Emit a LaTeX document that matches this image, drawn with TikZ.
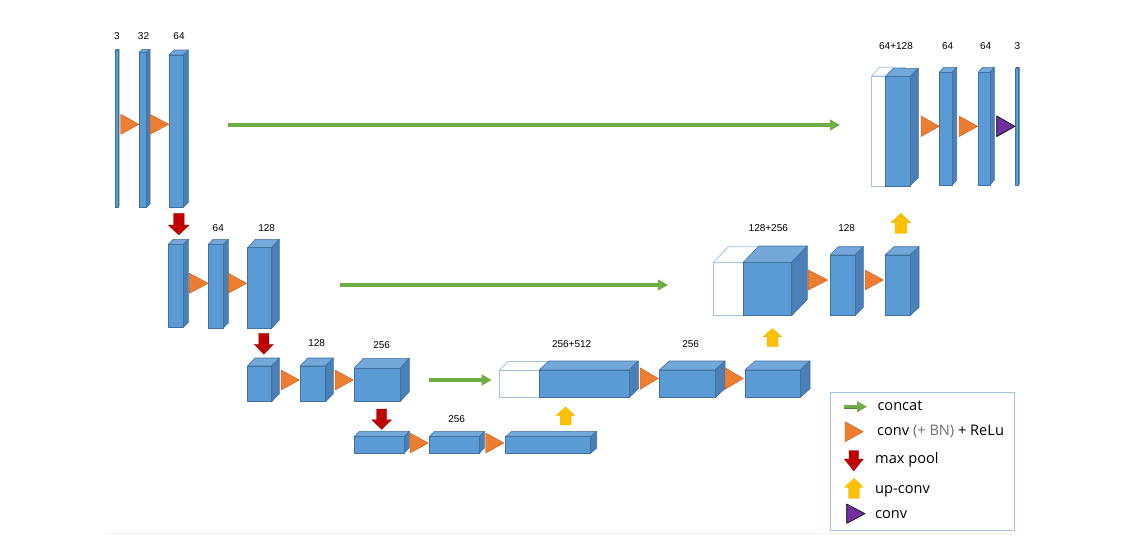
\documentclass[tikz,border=0pt]{standalone}
\usepackage{fontspec}
\setmainfont{Liberation Sans}
\newfontfamily\legfont{Open Sans}
\usetikzlibrary{arrows.meta}
\definecolor{bfront}{HTML}{5B9BD5}
\definecolor{btop}{HTML}{74A8DB}
\definecolor{bside}{HTML}{4A7FB8}
\definecolor{bedge}{HTML}{41719C}
\definecolor{wedge}{HTML}{9DC3E6}
\definecolor{convor}{HTML}{ED7D31}
\definecolor{convedge}{HTML}{C55A11}
\definecolor{poolred}{HTML}{C00000}
\definecolor{upyel}{HTML}{FFC000}
\definecolor{fpurple}{HTML}{7030A0}
\definecolor{cgreen}{HTML}{70AD47}
\definecolor{cgreendk}{HTML}{507E32}
\definecolor{legedge}{HTML}{9DC3E6}
\definecolor{bngray}{HTML}{707070}

\tikzset{
  blockfront/.style={draw=bedge, fill=bfront, line width=0.6pt, inner sep=0pt, outer sep=0pt},
  whitefront/.style={draw=wedge, fill=white, line width=0.8pt, inner sep=0pt, outer sep=0pt},
  topface/.style={draw=bedge, fill=btop, line width=0.6pt, line join=round},
  sideface/.style={draw=bedge, fill=bside, line width=0.6pt, line join=round},
  wface/.style={draw=wedge, fill=white, line width=0.8pt, line join=round},
  convtri/.style={fill=convor, draw=convedge, line width=0.4pt, line join=round},
  finaltri/.style={fill=fpurple, draw=black, line width=0.6pt, line join=round},
  poolarrow/.style={fill=poolred, draw=poolred!85!black, line width=0.3pt},
  uparrow/.style={fill=upyel, draw=upyel!92!black, line width=0.3pt},
  concat/.style={draw=cgreen, line width=3.2pt, -{Triangle[length=10pt,width=10.5pt]},
     preaction={draw=cgreendk, line width=4.2pt, arrows=-, shorten >=9pt}},
  lbl/.style={font=\fontsize{10}{12}\selectfont, inner sep=0pt, anchor=base},
  legtxt/.style={font=\legfont\fontsize{14.6}{17}\selectfont, inner sep=0pt, anchor=base west},
}

% #1 name, #2 x1, #3 ytop, #4 x2, #5 ybot, #6 dx, #7 dy
\newcommand\blk[7]{%
  \path[topface] (#2,#3) -- (#2+#6,#3-#7) -- (#4+#6,#3-#7) -- (#4,#3) -- cycle;
  \path[sideface] (#4,#3) -- (#4+#6,#3-#7) -- (#4+#6,#5-#7) -- (#4,#5) -- cycle;
  \pgfmathsetlengthmacro\blkw{(#4-#2)*1pt}%
  \pgfmathsetlengthmacro\blkh{(#5-#3)*1pt}%
  \node[blockfront, minimum width=\blkw, minimum height=\blkh, anchor=north west] (#1) at (#2,#3) {};
}
\newcommand\wblk[7]{%
  \path[wface] (#2,#3) -- (#2+#6,#3-#7) -- (#4+#6,#3-#7) -- (#4,#3) -- cycle;
  \path[wface] (#4,#3) -- (#4+#6,#3-#7) -- (#4+#6,#5-#7) -- (#4,#5) -- cycle;
  \pgfmathsetlengthmacro\blkw{(#4-#2)*1pt}%
  \pgfmathsetlengthmacro\blkh{(#5-#3)*1pt}%
  \node[whitefront, minimum width=\blkw, minimum height=\blkh, anchor=north west] (#1) at (#2,#3) {};
}
% #1 style, #2 x1, #3 ymid, #4 length, #5 half height
\newcommand\tri[5]{%
  \path[#1] (#2,#3-#5) -- (#2+#4,#3) -- (#2,#3+#5) -- cycle;}
% down arrow: #1 cx, #2 ytop, #3 ybot, #4 half width, #5 shaft half width, #6 head length
\newcommand\dnarrow[6]{%
  \path[poolarrow] (#1-#5,#2) -- (#1+#5,#2) -- (#1+#5,#3-#6) -- (#1+#4,#3-#6) -- (#1,#3)
     -- (#1-#4,#3-#6) -- (#1-#5,#3-#6) -- cycle;}
% up arrow: #1 cx, #2 ytop, #3 ybot, #4 half width, #5 shaft half width, #6 head length
\newcommand\uparr[6]{%
  \path[uparrow] (#1-#5,#3) -- (#1+#5,#3) -- (#1+#5,#2+#6) -- (#1+#4,#2+#6) -- (#1,#2)
     -- (#1-#4,#2+#6) -- (#1-#5,#2+#6) -- cycle;}

\begin{document}
\begin{tikzpicture}[x=1pt,y=-1pt]
\useasboundingbox (0,0) rectangle (1124,557);
\fill[white] (0,0) rectangle (1124,557);

% faint base line
\draw[black!5, line width=1pt] (105,533) -- (1020,533);

% ---------- level 1 encoder ----------
\blk{b11}{115}{50.5}{118}{207}{1}{1}
\blk{b12}{139}{52.3}{146.7}{207}{3.3}{3}
\blk{b13}{169}{55}{183.3}{207.3}{5}{5}
\node[lbl] (l11) at (117,39.3) {3};
\node[lbl] (l12) at (143.5,39.3) {32};
\node[lbl] (l13) at (179,39.3) {64};
\tri{convtri}{120.7}{124.3}{18.3}{10}
\tri{convtri}{150}{124.3}{19}{10}

\coordinate (g1s) at (228,125);
\coordinate (g1e) at (840,125);
\draw[concat] (g1s) -- (g1e);

\dnarrow{178.8}{213.3}{235}{10.5}{5.3}{10}

% ---------- level 2 encoder ----------
\blk{b21}{168.3}{244.3}{183.3}{327.3}{5}{5}
\blk{b22}{208.3}{244.3}{223.3}{328}{5}{5}
\blk{b23}{247.7}{247.7}{271.7}{328.3}{7.6}{8.4}
\node[lbl] (l22) at (218.3,231.7) {64};
\node[lbl] (l23) at (266.7,231) {128};
\tri{convtri}{189.3}{283.3}{19}{10}
\tri{convtri}{228.3}{283.3}{18.4}{10}

\coordinate (g2s) at (340,285);
\coordinate (g2e) at (668,285);
\draw[concat] (g2s) -- (g2e);

\dnarrow{263.8}{333.3}{354.3}{9.5}{5}{10}

% ---------- level 3 encoder ----------
\blk{b31}{247.5}{366}{271.7}{401.7}{7.6}{8}
\blk{b32}{300}{366}{325.7}{401.7}{7.6}{8}
\blk{b33}{354}{368.3}{400}{401.7}{9.3}{10}
\node[lbl] (l32) at (316.7,346.7) {128};
\node[lbl] (l33) at (381.7,348.3) {256};
\tri{convtri}{281}{380}{18.3}{10}
\tri{convtri}{335}{380}{18.3}{10}

\coordinate (g3s) at (429.3,380);
\coordinate (g3e) at (491.7,380);
\draw[concat] (g3s) -- (g3e);

\dnarrow{381.7}{409}{429.3}{10}{5}{9.5}

% ---------- level 4 ----------
\blk{b41}{354}{436.7}{404}{453.3}{5.3}{5.3}
\blk{b42}{429.3}{436.7}{479.3}{453.3}{5}{5.3}
\blk{b43}{505.7}{436.7}{590.7}{453.3}{6}{5.3}
\node[lbl] (l42) at (456.7,422.3) {256};
\tri{convtri}{410}{443}{18.3}{10}
\tri{convtri}{485.7}{443}{18.3}{10}

\uparr{565.5}{407}{425}{9.5}{5.5}{8.5}

% ---------- level 3 decoder ----------
\wblk{w3}{499.3}{370.5}{545}{397.7}{9}{9}
\blk{b34}{539.3}{370}{629}{397.7}{9.3}{9}
\blk{b35}{659.3}{370}{715}{397.7}{10}{9}
\blk{b36}{745}{370}{800}{397.7}{10}{9}
\node[lbl] (l34) at (571.7,347.7) {256+512};
\node[lbl] (l35) at (690.7,347.3) {256};
\tri{convtri}{640}{378.5}{18.3}{10.8}
\tri{convtri}{725}{378.5}{18.3}{10.8}

\uparr{772.5}{328.3}{346.7}{9.2}{5.5}{8.5}

% ---------- level 2 decoder ----------
\wblk{w2}{713.3}{262.7}{750}{315.7}{15}{16}
\blk{b24}{743.3}{262.3}{791.7}{315.7}{15.6}{16.3}
\blk{b25}{830}{255}{855}{315.7}{8.3}{8.3}
\blk{b26}{885}{255}{910}{315.7}{9}{8.3}
\node[lbl] (l24) at (768.3,231) {128+256};
\node[lbl] (l25) at (846.7,231) {128};
\tri{convtri}{808.3}{280}{19.4}{10}
\tri{convtri}{865}{280}{18.3}{10}

\uparr{900.8}{213.3}{233.3}{9.8}{5.8}{9.3}

% ---------- level 1 decoder ----------
\wblk{w1}{871.7}{76}{897}{186}{7.7}{8.7}
\blk{b14}{885}{76.7}{910}{186}{8.3}{8.4}
\blk{b15}{939.3}{72.3}{952.3}{185}{4.4}{5}
\blk{b16}{978.3}{72.3}{990}{185}{4.3}{5}
\blk{b17}{1015.3}{68.5}{1018.3}{185}{1}{1}
\node[lbl] (l14) at (896,49.3) {64+128};
\node[lbl] (l15) at (947.7,49.3) {64};
\node[lbl] (l16) at (985.7,49.3) {64};
\node[lbl] (l17) at (1017.5,49.3) {3};
\tri{convtri}{921}{126.3}{18.3}{10.3}
\tri{convtri}{959}{126.3}{18.7}{10.3}
\tri{finaltri}{996.7}{126.3}{18.3}{10.3}

% ---------- legend ----------
\node[draw=legedge, line width=0.8pt, fill=white, minimum width=184.3pt, minimum height=138.3pt,
      inner sep=0pt, anchor=north west] (legend) at (830,391.7) {};
\coordinate (lgs) at (844,406.7);
\coordinate (lge) at (867,406.7);
\draw[concat] (lgs) -- (lge);
\node[legtxt] (t1) at (877.3,410) {concat};
\tri{convtri}{845}{431.7}{18.3}{10}
\node[legtxt] (t2) at (877,435) {conv {\color{bngray}(+ BN)} + ReLu};
\dnarrow{853.8}{450.5}{471}{9.5}{4.7}{12}
\node[legtxt] (t3) at (875,463.3) {max pool};
\uparr{854}{478.3}{498.3}{9.2}{5.3}{9}
\node[legtxt] (t4) at (875,493.3) {up-conv};
\tri{finaltri}{846.7}{513.7}{18.3}{9.7}
\node[legtxt] (t5) at (875,518.3) {conv};
\end{tikzpicture}
\end{document}
